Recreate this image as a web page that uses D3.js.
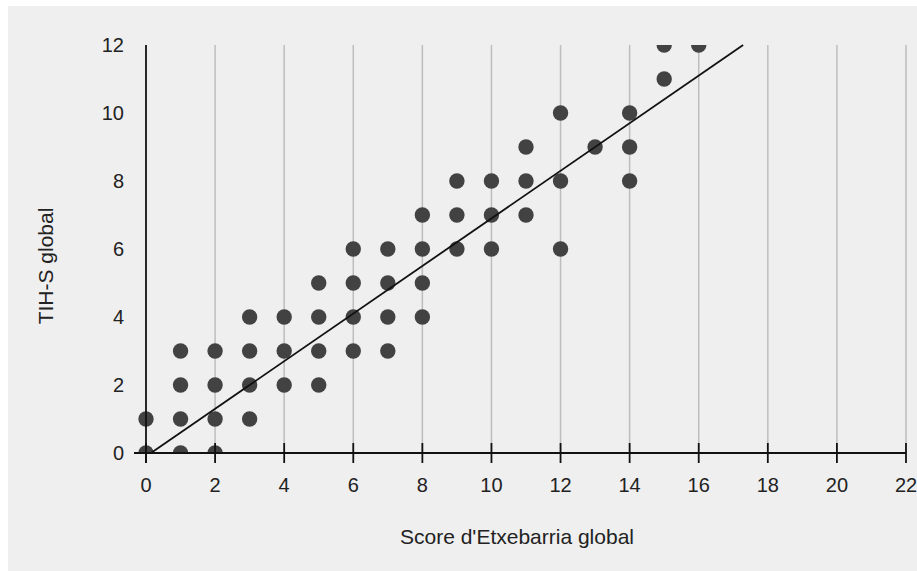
<!DOCTYPE html>
<html><head><meta charset="utf-8">
<script src="https://cdn.jsdelivr.net/npm/d3@7"></script>
<style>body{margin:0;background:#fff;}svg{display:block;font-family:"Liberation Sans",Arial,sans-serif;}</style>
</head><body>
<svg id="chart" width="917" height="571"></svg>
<script>
const xValues = [0,0, 1,1,1,1, 2,2,2,2, 3,3,3,3, 4,4,4, 5,5,5,5, 6,6,6,6, 7,7,7,7, 8,8,8,8, 9,9,9, 10,10,10, 11,11,11, 12,12,12, 13, 14,14,14, 15,15, 16];
const yValues = [0,1, 0,1,2,3, 0,1,2,3, 1,2,3,4, 2,3,4, 2,3,4,5, 3,4,5,6, 3,4,5,6, 4,5,6,7, 6,7,8, 6,7,8, 7,8,9, 6,8,10, 9, 8,9,10, 11,12, 12];
const xTicks = [0,2,4,6,8,10,12,14,16,18,20,22];
const yTicks = [0,2,4,6,8,10,12];
const trendSlope = 0.7, trendIntercept = -0.1;
const xTitle = "Score d'Etxebarria global";
const yTitle = "TIH-S global";

const svg = d3.select("#chart");
svg.append("rect").attr("x",8).attr("y",6).attr("width",909).attr("height",565).attr("fill","#efefef");

const x = d3.scaleLinear().domain([0,22]).range([146,906]);
const y = d3.scaleLinear().domain([0,12]).range([453,45]);

svg.append("defs").append("clipPath").attr("id","clip")
  .append("rect").attr("x",100).attr("y",45).attr("width",820).attr("height",408);

// gridlines
svg.append("g").selectAll("line").data(xTicks.filter(d=>d>0)).join("line")
  .attr("x1",d=>x(d)).attr("x2",d=>x(d)).attr("y1",y(12)).attr("y2",y(0))
  .attr("stroke","#bdbdbd").attr("stroke-width",1.5);

// points
const pts = xValues.map((v,i)=>({x:v,y:yValues[i]}));
svg.append("g").attr("clip-path","url(#clip)").selectAll("circle").data(pts).join("circle")
  .attr("cx",d=>x(d.x)).attr("cy",d=>y(d.y)).attr("r",7.7).attr("fill","#424242");

// trend line
const x0 = (0 - trendIntercept)/trendSlope, x1 = (12 - trendIntercept)/trendSlope;
svg.append("line").attr("x1",x(x0)).attr("y1",y(0)).attr("x2",x(x1)).attr("y2",y(12))
  .attr("stroke","#111").attr("stroke-width",1.8);

// x axis
const xAxisG = svg.append("g");
xAxisG.append("line").attr("x1",134).attr("x2",x(22)).attr("y1",y(0)).attr("y2",y(0)).attr("stroke","#111").attr("stroke-width",1.8);
xAxisG.selectAll("line.t").data(xTicks).join("line").attr("class","t")
  .attr("x1",d=>x(d)).attr("x2",d=>x(d)).attr("y1",y(0)-10).attr("y2",y(0)+10)
  .attr("stroke","#111").attr("stroke-width",1.8);
xAxisG.selectAll("text").data(xTicks).join("text")
  .attr("x",d=>x(d)).attr("y",492).attr("text-anchor","middle")
  .attr("font-size",20).attr("fill","#222").text(d=>d);

// y axis
svg.append("line").attr("x1",x(0)).attr("x2",x(0)).attr("y1",y(12)).attr("y2",y(0)+10).attr("stroke","#111").attr("stroke-width",1.8);
svg.append("g").selectAll("text").data(yTicks).join("text")
  .attr("x",124).attr("y",d=>y(d)+7).attr("text-anchor","end")
  .attr("font-size",20).attr("fill","#222").text(d=>d);

// titles
svg.append("text").attr("x",517).attr("y",544).attr("text-anchor","middle")
  .attr("font-size",21).attr("fill","#222").text(xTitle);
svg.append("text").attr("transform","translate(53,266) rotate(-90)").attr("text-anchor","middle")
  .attr("font-size",21).attr("fill","#222").text(yTitle);
</script>
</body></html>
